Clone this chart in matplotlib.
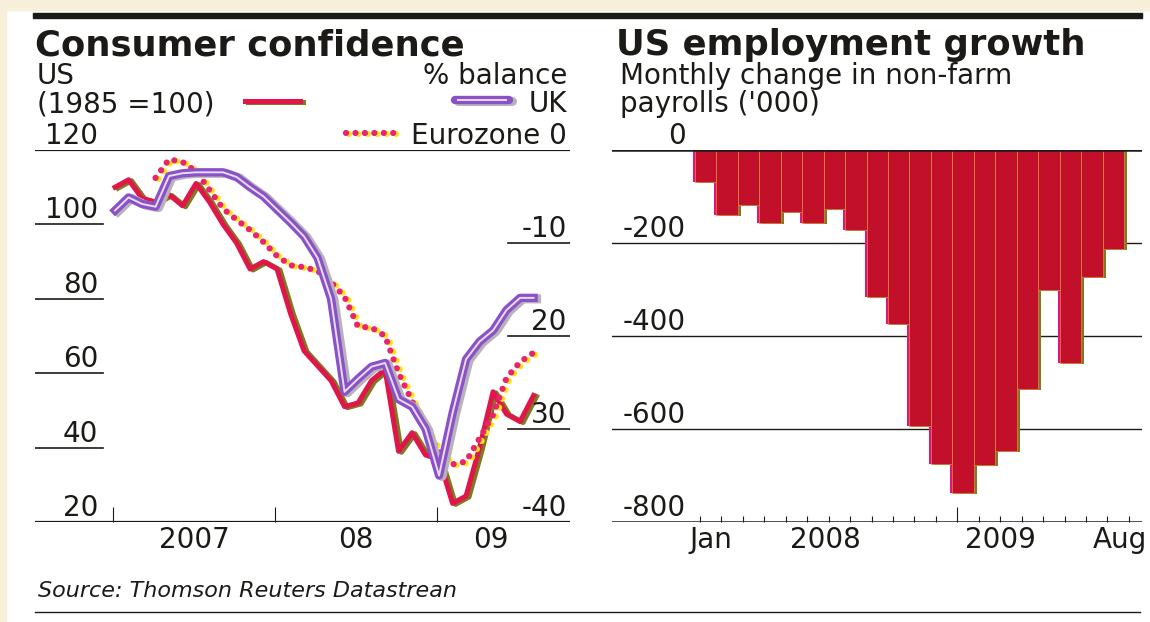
import matplotlib
matplotlib.use('Agg')
import matplotlib.pyplot as plt
import numpy as np
from matplotlib.lines import Line2D
from matplotlib.patches import Rectangle
from matplotlib.transforms import offset_copy, blended_transform_factory

# Consumer confidence, monthly Jan 2007 - Aug 2009
months = np.arange(32)
us_index = [110, 112, 107, 106, 108, 105, 111, 106, 100, 95, 88, 90,
            88, 76, 66, 62, 58, 51, 52, 58, 61, 39, 44, 38,
            37, 25, 27, 40, 55, 49, 47, 54]
uk_balance = [-6.5, -5.1, -5.8, -6.1, -2.8, -2.5, -2.4, -2.4, -2.4, -2.9, -4.0, -5.0,
              -6.4, -7.8, -9.3, -11.6, -16.0, -26.0, -24.6, -23.3, -22.9, -26.8, -27.6, -30.0,
              -35.0, -28.3, -22.5, -20.6, -19.4, -17.2, -15.9, -15.9]
ez_balance = [np.nan, np.nan, np.nan, -3.0, -1.0, -1.3, -2.3, -4.3, -6.3, -7.5, -8.6, -9.9,
              -11.4, -12.4, -12.6, -13.0, -14.2, -15.8, -19.0, -19.1, -20.0, -24.0, -27.0, -30.0,
              -32.5, -33.8, -33.5, -31.0, -28.5, -24.5, -22.8, -21.8]
cc_year_ticks = [0, 12, 24]
cc_year_pos = [6, 18, 28]
cc_year_labels = ['2007', '08', '09']
us_ticks = [100, 80, 60, 40, 20]
right_ticks = [-10, -20, -30, -40]
right_labels = ['-10', '20', '30', '-40']

# US non-farm payrolls, monthly change ('000), Jan 2008 - Aug 2009
payroll_months = np.arange(20)
payrolls = [-68, -140, -118, -156, -133, -156, -126, -171, -317, -374,
            -593, -676, -737, -678, -648, -515, -300, -458, -273, -212]
pay_ticks = [0, -200, -400, -600, -800]
pay_label_pos = [0.25, 5.6, 13.75, 19.3]
pay_labels = ['Jan', '2008', '2009', 'Aug']

W, H = 1150, 622
ink = '#1c1a17'
red = '#e0164a'
olive = '#7f7a22'
purple = '#8a52c6'
magenta = '#e8246e'
yellow = '#ffe41a'
bar_red = '#c2102a'
FS = 20

plt.rcParams['font.family'] = ['DejaVu Sans']
fig = plt.figure(figsize=(W / 100, H / 100), dpi=100)
fig.patch.set_facecolor('white')


def fx(px):
    return px / W


def fy(py):
    return 1 - py / H


# paper border and rules
fig.add_artist(Rectangle((0, fy(10)), 1, 10 / H, transform=fig.transFigure, color='#f8efdb', zorder=0))
fig.add_artist(Rectangle((0, 0), 6 / W, 1, transform=fig.transFigure, color='#f8efdb', zorder=0))
fig.add_artist(Rectangle((fx(33), fy(18)), fx(1142) - fx(33), 5 / H, transform=fig.transFigure,
                         color=ink, zorder=1))
fig.add_artist(Line2D([fx(35), fx(1140)], [fy(612), fy(612)], color=ink, lw=1.0))


def shifted(ax, dx, dy):
    return offset_copy(ax.transData, fig=fig, x=dx, y=dy, units='dots')


def ylabel(ax, xfrac, y, s, ha, dy=6):
    tr = offset_copy(blended_transform_factory(ax.transAxes, ax.transData), fig=fig, x=0, y=dy, units='dots')
    ax.text(xfrac, y, s, transform=tr, ha=ha, va='baseline', fontsize=FS, color=ink, clip_on=False)


# ---- Consumer confidence ----
ax1 = fig.add_axes([fx(35), fy(522), fx(570) - fx(35), 372 / H])
ax1.set_xlim(-5.78, 33.85)
ax1.set_ylim(20, 120)
ax2 = ax1.twinx()
ax2.set_ylim(-40, 0)
for a in (ax1, ax2):
    for s in a.spines.values():
        s.set_visible(False)
    a.set_yticks([])
    a.patch.set_visible(False)

x = months + 0.15
# Eurozone dotted line (yellow offset + magenta)
ax2.plot(x, ez_balance, color=yellow, lw=4.5, linestyle=(0, (0.01, 1.5)), dash_capstyle='round',
         transform=shifted(ax2, 3, -1), zorder=2)
ax2.plot(x, ez_balance, color=magenta, lw=4.5, linestyle=(0, (0.01, 1.5)), dash_capstyle='round', zorder=3)
# UK double line
ax2.plot(x, uk_balance, color='#b8b2bc', lw=6.5, transform=shifted(ax2, 3, -1), zorder=4)
ax2.plot(x, uk_balance, color=purple, lw=6.0, zorder=5)
ax2.plot(x, uk_balance, color='#e6dcf6', lw=1.4, zorder=6)
# US
ax1.plot(x, us_index, color=olive, lw=3.6, transform=shifted(ax1, 3, -1), zorder=7)
ax1.plot(x, us_index, color=red, lw=3.6, zorder=8)

ax1.axhline(120, color=ink, lw=1.6, zorder=9)
ax1.axhline(20, color=ink, lw=1.6, zorder=9)
for v in us_ticks[:-1]:
    ax1.axhline(v, xmin=0, xmax=0.127, color=ink, lw=1.2)
for v in right_ticks[:-1]:
    ax2.axhline(v, xmin=0.884, xmax=1, color=ink, lw=1.2)
for v in us_ticks + [120]:
    ylabel(ax1, 0.118, v, str(v), 'right')
for v, s in zip(right_ticks, right_labels):
    ylabel(ax2, 0.994, v, s, 'right')
ylabel(ax2, 0.994, 0, 'Eurozone 0', 'right')

ax1.set_xticks(cc_year_ticks, [])
ax1.tick_params(axis='x', which='major', direction='in', length=10.5, width=0.8, color=ink)
ax1.set_xticks(cc_year_pos, cc_year_labels, minor=True)
ax1.tick_params(axis='x', which='minor', length=0, pad=3, labelsize=FS, labelcolor=ink)

# ---- US employment growth ----
ax3 = fig.add_axes([fx(612), fy(522), fx(1142) - fx(612), 372 / H])
ax3.set_xlim(-4.37, 20.34)
ax3.set_ylim(-800, 0)
for s in ax3.spines.values():
    s.set_visible(False)
ax3.set_yticks([])
ax3.patch.set_visible(False)

for v in (-200, -400, -600):
    ax3.axhline(v, color=ink, lw=1.0, zorder=1)
ax3.bar(payroll_months, payrolls, width=1.0, color='#e8127a', transform=shifted(ax3, -2, 0), zorder=2)
ax3.bar(payroll_months, payrolls, width=1.0, color=olive, transform=shifted(ax3, 3, -1), zorder=3)
ax3.bar(payroll_months, payrolls, width=1.0, color=bar_red, edgecolor='#d9903a', linewidth=0.5, zorder=4)
ax3.axhline(0, color=ink, lw=1.8, zorder=5)
ax3.axhline(-800, color=ink, lw=1.8, zorder=5)
for v in pay_ticks:
    ylabel(ax3, 0.1396, v, str(v), 'right')

ax3.set_xticks(pay_label_pos, pay_labels)
ax3.tick_params(axis='x', which='major', length=0, pad=3, labelsize=FS, labelcolor=ink)
ax3.set_xticks(np.arange(21) - 0.27, minor=True)
ax3.tick_params(axis='x', which='minor', direction='in', length=4.5, width=0.8, color=ink)
ax3.xaxis.get_minor_ticks()[12].tick1line.set_markersize(11)

# ---- headers ----
fig.text(fx(35), fy(55), 'Consumer confidence', fontsize=25.5, fontweight='bold', color=ink)
fig.text(fx(37), fy(84), 'US', fontsize=FS, color=ink)
fig.text(fx(567), fy(84), '% balance', fontsize=FS, color=ink, ha='right')
fig.text(fx(37), fy(112), '(1985 =100)', fontsize=FS, color=ink)
fig.text(fx(567), fy(112), 'UK', fontsize=FS, color=ink, ha='right')
fig.text(fx(616), fy(55), 'US employment growth', fontsize=25.5, fontweight='bold', color=ink)
fig.text(fx(620), fy(84), 'Monthly change in non-farm', fontsize=FS, color=ink)
fig.text(fx(620), fy(112), "payrolls ('000)", fontsize=FS, color=ink)
fig.text(fx(38), fy(597), 'Source: Thomson Reuters Datastrean', fontsize=16, style='italic', color=ink)

# legend keys
fig.add_artist(Line2D([fx(248), fx(303)], [fy(102), fy(102)], color=olive, lw=3.6))
fig.add_artist(Line2D([fx(245), fx(300)], [fy(101), fy(101)], color=red, lw=3.6))
fig.add_artist(Line2D([fx(458), fx(512)], [fy(101), fy(101)], color='#b8b2bc', lw=6.5, solid_capstyle='round'))
fig.add_artist(Line2D([fx(455), fx(509)], [fy(100), fy(100)], color=purple, lw=6.0, solid_capstyle='round'))
fig.add_artist(Line2D([fx(458), fx(506)], [fy(100), fy(100)], color='#e6dcf6', lw=1.4))
fig.add_artist(Line2D([fx(349), fx(399)], [fy(134), fy(134)], color=yellow, lw=4.5,
                      linestyle=(0, (0.01, 1.5)), dash_capstyle='round'))
fig.add_artist(Line2D([fx(346), fx(396)], [fy(133), fy(133)], color=magenta, lw=4.5,
                      linestyle=(0, (0.01, 1.5)), dash_capstyle='round'))

fig.savefig('out.png', dpi=100)
